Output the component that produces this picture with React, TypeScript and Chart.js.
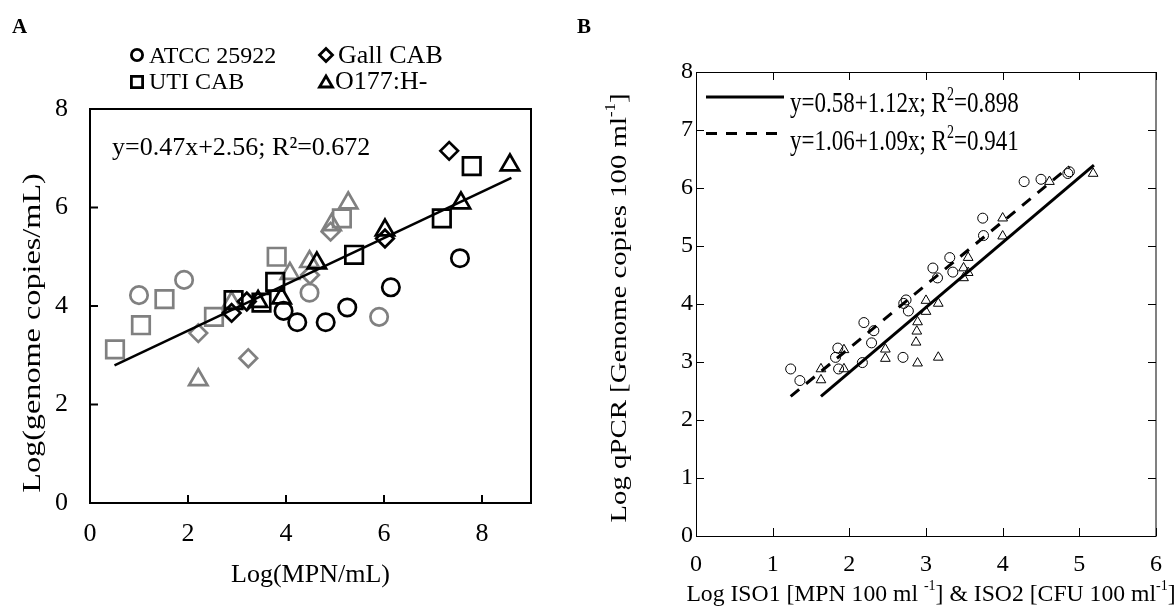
import React, { useEffect, useRef } from 'react';
import { Chart, registerables } from 'chart.js';

Chart.register(...registerables);

const SERIF = '"Liberation Serif", "Times New Roman", Times, serif';
const GREY = '#808080';
const BLACK = '#000000';

// ---------------- Panel A data ----------------
const aXTicks = [0, 2, 4, 6, 8];
const aYTicks = [0, 2, 4, 6, 8];
const aXRange = [0, 9];
const aYRange = [0, 8];
const aXTitle = 'Log(MPN/mL)';
const aYTitle = 'Log(genome copies/mL)';
const aEquation = 'y=0.47x+2.56; R²=0.672';
const aLegendLabels = ['ATCC 25922', 'Gall CAB', 'UTI CAB', 'O177:H-'];

const aAtccBlack = [[3.95, 3.9], [4.23, 3.67], [4.81, 3.67], [5.25, 3.97], [6.14, 4.38], [7.55, 4.97]];
const aAtccGrey = [[1.0, 4.22], [1.92, 4.53], [4.48, 4.27], [5.9, 3.78]];
const aUtiBlack = [[2.93, 4.12], [3.5, 4.07], [3.78, 4.49], [5.39, 5.04], [7.18, 5.78], [7.79, 6.84]];
const aUtiGrey = [[0.51, 3.12], [1.04, 3.61], [1.52, 4.14], [2.53, 3.78], [3.81, 5.0], [5.14, 5.78]];
const aGallBlack = [[2.89, 3.86], [3.2, 4.09], [6.02, 5.37], [7.33, 7.15]];
const aGallGrey = [[2.21, 3.45], [3.23, 2.94], [4.49, 4.63], [4.91, 5.51]];
const aO177Black = [[3.43, 4.09], [3.91, 4.16], [4.63, 4.87], [6.02, 5.54], [7.57, 6.09], [8.57, 6.86]];
const aO177Grey = [[2.21, 2.5], [2.89, 4.07], [4.08, 4.66], [4.48, 4.9], [4.93, 5.65], [5.27, 6.09]];

const aFitSlope = 0.47;
const aFitIntercept = 2.56;
const aFitXRange = [0.5, 8.6];

// ---------------- Panel B data ----------------
const bXTicks = [0, 1, 2, 3, 4, 5, 6];
const bYTicks = [0, 1, 2, 3, 4, 5, 6, 7, 8];
const bXRange = [0, 6];
const bYRange = [0, 8];

const bCircles = [
  [1.235, 2.88], [1.355, 2.68], [1.85, 3.24], [1.82, 3.08], [1.86, 2.88], [2.19, 3.68],
  [2.32, 3.54], [2.29, 3.33], [2.17, 2.99], [2.7, 3.08], [2.74, 4.07], [2.71, 4.01],
  [2.77, 3.88], [3.09, 4.62], [3.15, 4.45], [3.31, 4.8], [3.35, 4.55], [3.74, 5.48],
  [3.75, 5.18], [4.28, 6.11], [4.5, 6.15], [4.85, 6.25], [4.87, 6.28],
];
const bTriangles = [
  [1.63, 2.88], [1.63, 2.69], [1.93, 3.21], [1.93, 2.88], [2.47, 3.22], [2.47, 3.06],
  [2.89, 2.98], [2.87, 3.34], [2.88, 3.53], [2.89, 3.69], [3.0, 3.87], [3.0, 4.06],
  [3.16, 4.01], [3.16, 3.08], [3.49, 4.45], [3.49, 4.62], [3.55, 4.8], [3.55, 4.54],
  [4.0, 5.17], [4.0, 5.48], [4.61, 6.11], [5.18, 6.25],
];

const bSolidSlope = 1.12;
const bSolidIntercept = 0.58;
const bSolidXRange = [1.63, 5.19];
const bDashedSlope = 1.09;
const bDashedIntercept = 1.06;
const bDashedXRange = [1.235, 4.87];

type Seg = { t: string; sup?: boolean };
const bLegendSolid: Seg[] = [{ t: 'y=0.58+1.12x; R' }, { t: '2', sup: true }, { t: '=0.898' }];
const bLegendDashed: Seg[] = [{ t: 'y=1.06+1.09x; R' }, { t: '2', sup: true }, { t: '=0.941' }];
const bXTitle: Seg[] = [
  { t: 'Log ISO1 [MPN 100 ml ' }, { t: '-1', sup: true }, { t: '] & ISO2 [CFU 100 ml' },
  { t: '-1', sup: true }, { t: ']' },
];
const bYTitle: Seg[] = [{ t: 'Log qPCR [Genome copies 100 ml' }, { t: '-1', sup: true }, { t: ']' }];

// ---------------- helpers ----------------
function pts(arr: number[][]) {
  return arr.map(([x, y]) => ({ x, y }));
}
function fitPts(slope: number, intercept: number, range: number[]) {
  return range.map((x) => ({ x, y: intercept + slope * x }));
}
function markerSet(data: number[][], style: string, color: string, radius: number, width: number) {
  return {
    data: pts(data),
    showLine: false,
    pointStyle: style,
    pointRadius: radius,
    pointHoverRadius: radius,
    pointBorderColor: color,
    pointBackgroundColor: 'rgba(0,0,0,0)',
    pointBorderWidth: width,
    pointHoverBorderWidth: width,
  };
}
function drawRich(ctx: CanvasRenderingContext2D, segs: Seg[], x: number, y: number, size: number, align: 'left' | 'center', supRaise = 0.42) {
  const supSize = Math.round(size * 0.6);
  const widths = segs.map((s) => {
    ctx.font = `${s.sup ? supSize : size}px ${SERIF}`;
    return ctx.measureText(s.t).width;
  });
  const total = widths.reduce((a, b) => a + b, 0);
  let cx = align === 'center' ? x - total / 2 : x;
  ctx.textAlign = 'left';
  ctx.textBaseline = 'alphabetic';
  segs.forEach((s, i) => {
    ctx.font = `${s.sup ? supSize : size}px ${SERIF}`;
    ctx.fillText(s.t, cx, s.sup ? y - size * supRaise : y);
    cx += widths[i];
  });
}
function legendMarker(ctx: CanvasRenderingContext2D, style: string, x: number, y: number) {
  ctx.beginPath();
  if (style === 'circle') {
    ctx.arc(x, y, 5.6, 0, Math.PI * 2);
  } else if (style === 'rect') {
    ctx.rect(x - 5.6, y - 5.6, 11.2, 11.2);
  } else if (style === 'rectRot') {
    ctx.moveTo(x - 6.5, y);
    ctx.lineTo(x, y - 6.5);
    ctx.lineTo(x + 6.5, y);
    ctx.lineTo(x, y + 6.5);
    ctx.closePath();
  } else {
    ctx.moveTo(x, y - 6);
    ctx.lineTo(x + 6.5, y + 5);
    ctx.lineTo(x - 6.5, y + 5);
    ctx.closePath();
  }
  ctx.stroke();
}

function axisCommon(size: number) {
  return {
    type: 'linear' as const,
    grid: { display: false, drawTicks: false },
    border: { display: false },
    ticks: { color: BLACK, font: { family: SERIF, size }, maxRotation: 0, autoSkip: false },
  };
}

// ---------------- Panel A plugin ----------------
const panelAPlugin = {
  id: 'panelADecor',
  afterDraw(chart: any) {
    const { ctx, chartArea: ca, scales } = chart;
    const xs = scales.x;
    const ys = scales.y;
    ctx.save();
    ctx.strokeStyle = BLACK;
    ctx.fillStyle = BLACK;
    ctx.lineWidth = 2;
    ctx.strokeRect(ca.left, ca.top, ca.right - ca.left, ca.bottom - ca.top);
    ctx.beginPath();
    aXTicks.forEach((v) => {
      const px = xs.getPixelForValue(v);
      ctx.moveTo(px, ca.bottom);
      ctx.lineTo(px, ca.bottom - 8);
    });
    aYTicks.forEach((v) => {
      const py = ys.getPixelForValue(v);
      ctx.moveTo(ca.left, py);
      ctx.lineTo(ca.left + 8, py);
    });
    ctx.stroke();

    // y title (stretched along its length)
    ctx.save();
    ctx.translate(33, 333);
    ctx.rotate(-Math.PI / 2);
    ctx.scale(1.24, 1);
    ctx.font = `26px ${SERIF}`;
    ctx.textAlign = 'center';
    ctx.textBaseline = 'middle';
    ctx.fillText(aYTitle, 0, 0);
    ctx.restore();

    // equation
    ctx.font = `26px ${SERIF}`;
    ctx.textAlign = 'left';
    ctx.textBaseline = 'alphabetic';
    ctx.fillText(aEquation, 112, 155);

    // legend
    ctx.lineWidth = 2.8;
    const styles = ['circle', 'rectRot', 'rect', 'triangle'];
    const lx = [137, 326, 137, 326];
    const ly = [55, 55, 82, 82];
    const tx = [149, 338, 149, 335];
    const tb = [63, 63, 89, 89];
    const ts = [24, 26, 24, 26];
    styles.forEach((s, i) => legendMarker(ctx, s, lx[i], ly[i]));
    aLegendLabels.forEach((t, i) => {
      ctx.font = `${ts[i]}px ${SERIF}`;
      ctx.fillText(t, tx[i], tb[i]);
    });

    // panel letter
    ctx.font = `bold 21px ${SERIF}`;
    ctx.fillText('A', 12, 33);
    ctx.restore();
  },
};

// ---------------- Panel B plugin ----------------
const B_LEFT = 570;
const panelBPlugin = {
  id: 'panelBDecor',
  afterDraw(chart: any) {
    const { ctx, chartArea: ca, scales } = chart;
    const xs = scales.x;
    const ys = scales.y;
    ctx.save();
    ctx.strokeStyle = BLACK;
    ctx.fillStyle = BLACK;
    ctx.lineWidth = 1;
    ctx.beginPath();
    ctx.moveTo(ca.right, ca.top + 0.5);
    ctx.lineTo(ca.left + 0.5, ca.top + 0.5);
    ctx.lineTo(ca.left + 0.5, ca.bottom + 0.5);
    ctx.lineTo(ca.right, ca.bottom + 0.5);
    ctx.stroke();
    ctx.strokeStyle = GREY;
    ctx.lineWidth = 2;
    ctx.beginPath();
    ctx.moveTo(ca.right, ca.top);
    ctx.lineTo(ca.right, ca.bottom + 1);
    ctx.stroke();
    ctx.strokeStyle = BLACK;
    ctx.lineWidth = 1;
    ctx.beginPath();
    bXTicks.forEach((v) => {
      const px = Math.round(xs.getPixelForValue(v)) + 0.5;
      ctx.moveTo(px, ca.bottom);
      ctx.lineTo(px, ca.bottom - 8);
      ctx.moveTo(px, ca.top);
      ctx.lineTo(px, ca.top + 8);
    });
    bYTicks.forEach((v) => {
      const py = Math.round(ys.getPixelForValue(v)) + 0.5;
      ctx.moveTo(ca.left, py);
      ctx.lineTo(ca.left + 8, py);
      ctx.moveTo(ca.right, py);
      ctx.lineTo(ca.right - 8, py);
    });
    ctx.stroke();

    // work in page coordinates
    ctx.translate(-B_LEFT, 0);

    // legend lines
    ctx.lineWidth = 3;
    ctx.beginPath();
    ctx.moveTo(706, 97);
    ctx.lineTo(784, 97);
    ctx.stroke();
    ctx.setLineDash([11, 9]);
    ctx.beginPath();
    ctx.moveTo(706, 133.5);
    ctx.lineTo(784, 133.5);
    ctx.stroke();
    ctx.setLineDash([]);

    ctx.save();
    ctx.translate(790, 112);
    ctx.scale(1, 1.3);
    drawRich(ctx, bLegendSolid, 0, 0, 23, 'left', 0.4);
    ctx.restore();
    ctx.save();
    ctx.translate(790, 150);
    ctx.scale(1, 1.3);
    drawRich(ctx, bLegendDashed, 0, 0, 23, 'left', 0.4);
    ctx.restore();

    // x title
    drawRich(ctx, bXTitle, 931, 601, 23.7, 'center', 0.45);

    // y title
    ctx.save();
    ctx.translate(618, 308);
    ctx.rotate(-Math.PI / 2);
    ctx.scale(1.2, 1);
    drawRich(ctx, bYTitle, 0, 8, 24, 'center', 0.45);
    ctx.restore();

    ctx.font = `bold 21px ${SERIF}`;
    ctx.textAlign = 'left';
    ctx.textBaseline = 'alphabetic';
    ctx.fillText('B', 577, 33);
    ctx.restore();
  },
};

function buildConfigA(): any {
  const ax = axisCommon(26);
  const ay = axisCommon(26);
  return {
    type: 'scatter',
    data: {
      datasets: [
        {
          data: fitPts(aFitSlope, aFitIntercept, aFitXRange),
          showLine: true,
          borderColor: BLACK,
          borderWidth: 2.5,
          pointRadius: 0,
          pointHoverRadius: 0,
        },
        markerSet(aAtccBlack, 'circle', BLACK, 8.7, 2.7),
        markerSet(aUtiBlack, 'rect', BLACK, 12.4, 2.7),
        markerSet(aGallBlack, 'rectRot', BLACK, 8.8, 2.7),
        markerSet(aO177Black, 'triangle', BLACK, 10.6, 2.7),
        markerSet(aAtccGrey, 'circle', GREY, 8.7, 2.7),
        markerSet(aUtiGrey, 'rect', GREY, 12.4, 2.7),
        markerSet(aGallGrey, 'rectRot', GREY, 8.8, 2.7),
        markerSet(aO177Grey, 'triangle', GREY, 10.6, 2.7),
      ],
    },
    options: {
      animation: false,
      responsive: false,
      maintainAspectRatio: false,
      events: [],
      layout: { padding: { left: 0, top: 109, right: 39, bottom: 0 } },
      plugins: { legend: { display: false }, tooltip: { enabled: false }, title: { display: false } },
      scales: {
        x: {
          ...ax,
          position: 'bottom',
          min: aXRange[0],
          max: aXRange[1],
          ticks: { ...ax.ticks, padding: 16 },
          afterBuildTicks: (s: any) => {
            s.ticks = aXTicks.map((v) => ({ value: v }));
          },
          afterFit: (s: any) => {
            s.height = 105;
          },
          title: {
            display: true,
            text: aXTitle,
            color: BLACK,
            font: { family: SERIF, size: 26 },
            padding: { top: 0, bottom: 17 },
          },
        },
        y: {
          ...ay,
          position: 'left',
          min: aYRange[0],
          max: aYRange[1],
          ticks: { ...ay.ticks, padding: 22 },
          afterBuildTicks: (s: any) => {
            s.ticks = aYTicks.map((v) => ({ value: v }));
          },
          afterFit: (s: any) => {
            s.width = 90;
          },
        },
      },
    },
    plugins: [panelAPlugin],
  };
}

function buildConfigB(): any {
  const ax = axisCommon(24);
  const ay = axisCommon(24);
  return {
    type: 'scatter',
    data: {
      datasets: [
        {
          data: fitPts(bSolidSlope, bSolidIntercept, bSolidXRange),
          showLine: true,
          borderColor: BLACK,
          borderWidth: 3,
          pointRadius: 0,
          pointHoverRadius: 0,
        },
        {
          data: fitPts(bDashedSlope, bDashedIntercept, bDashedXRange),
          showLine: true,
          borderColor: BLACK,
          borderWidth: 3,
          borderDash: [11, 9],
          pointRadius: 0,
          pointHoverRadius: 0,
        },
        markerSet(bTriangles, 'triangle', BLACK, 5.6, 1),
        markerSet(bCircles, 'circle', BLACK, 5, 1),
      ],
    },
    options: {
      animation: false,
      responsive: false,
      maintainAspectRatio: false,
      events: [],
      layout: { padding: { left: 0, top: 72, right: 13, bottom: 0 } },
      plugins: { legend: { display: false }, tooltip: { enabled: false }, title: { display: false } },
      scales: {
        x: {
          ...ax,
          position: 'bottom',
          min: bXRange[0],
          max: bXRange[1],
          ticks: { ...ax.ticks, padding: 14 },
          afterBuildTicks: (s: any) => {
            s.ticks = bXTicks.map((v) => ({ value: v }));
          },
          afterFit: (s: any) => {
            s.height = 72;
          },
        },
        y: {
          ...ay,
          position: 'left',
          min: bYRange[0],
          max: bYRange[1],
          ticks: { ...ay.ticks, padding: 3 },
          afterBuildTicks: (s: any) => {
            s.ticks = bYTicks.map((v) => ({ value: v }));
          },
          afterFit: (s: any) => {
            s.width = 126;
          },
        },
      },
    },
    plugins: [panelBPlugin],
  };
}

export default function App() {
  const refA = useRef<HTMLCanvasElement>(null);
  const refB = useRef<HTMLCanvasElement>(null);
  useEffect(() => {
    const a = new Chart(refA.current as HTMLCanvasElement, buildConfigA());
    const b = new Chart(refB.current as HTMLCanvasElement, buildConfigB());
    return () => {
      a.destroy();
      b.destroy();
    };
  }, []);
  return (
    <div
      style={{
        position: 'fixed',
        left: 0,
        top: 0,
        width: 1176,
        height: 608,
        background: '#ffffff',
        overflow: 'hidden',
      }}
    >
      <canvas
        ref={refA}
        width={570}
        height={608}
        style={{ position: 'absolute', left: 0, top: 0, width: 570, height: 608 }}
      />
      <canvas
        ref={refB}
        width={606}
        height={608}
        style={{ position: 'absolute', left: B_LEFT, top: 0, width: 606, height: 608 }}
      />
    </div>
  );
}
